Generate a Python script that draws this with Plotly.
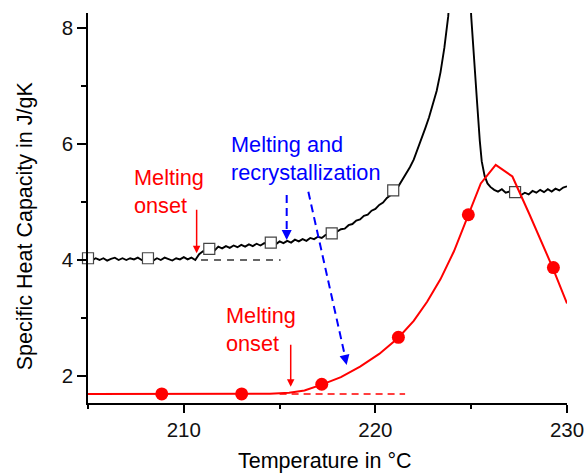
import plotly.graph_objects as go

# ---------------- data ----------------
# Black curve (noisy specific heat trace, open squares as markers)
black_x = [205.0, 205.2, 205.4, 205.6, 205.8, 206.0, 206.2, 206.4, 206.6, 206.8,
           207.0, 207.2, 207.4, 207.6, 207.8, 208.0, 208.2, 208.4, 208.6, 208.8,
           209.0, 209.2, 209.4, 209.6, 209.8, 210.0, 210.2, 210.4, 210.6, 210.8,
           211.0, 211.2, 211.4, 211.6, 211.8, 212.0, 212.2, 212.4, 212.6, 212.8,
           213.0, 213.2, 213.4, 213.6, 213.8, 214.0, 214.2, 214.4, 214.6, 214.8,
           215.0, 215.2, 215.4, 215.6, 215.8, 216.0, 216.2, 216.4, 216.6, 216.8,
           217.0, 217.2, 217.4, 217.6, 217.8, 218.0, 218.2, 218.4, 218.6, 218.8,
           219.0, 219.2, 219.4, 219.6, 219.8, 220.0, 220.2, 220.4, 220.6, 220.8,
           221.0, 221.2, 221.4, 221.6, 221.8, 222.0, 222.2, 222.4, 222.6, 222.8,
           223.0, 223.2, 223.4, 223.6, 223.8, 224.0, 224.4, 224.8, 225.0, 225.15,
           225.3, 225.45, 225.55, 225.7, 225.85, 226.0, 226.2, 226.4, 226.6, 226.8,
           227.0, 227.2, 227.4, 227.6, 227.8, 228.0, 228.2, 228.4, 228.6, 228.8,
           229.0, 229.2, 229.4, 229.6, 229.8, 230.0]
black_y = [4.02, 3.99, 4.03, 4.00, 4.03, 3.99, 4.02, 4.04, 4.00, 4.03,
           4.00, 4.03, 4.01, 4.04, 4.00, 4.03, 4.02, 3.99, 4.03, 4.00,
           4.04, 4.01, 3.99, 4.03, 4.01, 4.05, 4.01, 4.04, 4.00, 4.10,
           4.15, 4.13, 4.19, 4.16, 4.23, 4.20, 4.24, 4.21, 4.25, 4.22,
           4.26, 4.23, 4.27, 4.24, 4.28, 4.25, 4.29, 4.26, 4.30, 4.27,
           4.32, 4.29, 4.33, 4.30, 4.35, 4.32, 4.36, 4.33, 4.38, 4.36,
           4.40, 4.38, 4.43, 4.43, 4.47, 4.49, 4.53, 4.54, 4.60, 4.62,
           4.68, 4.70, 4.76, 4.78, 4.85, 4.88, 4.95, 4.99, 5.07, 5.12,
           5.21, 5.27, 5.38, 5.47, 5.60, 5.73, 5.90, 6.08, 6.27, 6.46,
           6.67, 6.92, 7.24, 7.66, 8.20, 9.20, 14.0, 9.80, 8.20, 7.40,
           6.75, 6.05, 5.70, 5.45, 5.32, 5.26, 5.21, 5.18, 5.22, 5.16,
           5.18, 5.14, 5.17, 5.12, 5.16, 5.13, 5.19, 5.16, 5.21, 5.17,
           5.22, 5.18, 5.23, 5.20, 5.25, 5.27]
square_x = [205.0, 208.13, 211.33, 214.54, 217.72, 220.93, 227.29]
square_y = [4.03, 4.03, 4.19, 4.30, 4.46, 5.20, 5.17]

# Red curve (fit line) and filled circles
red_x = [205.0, 207.0, 209.0, 211.0, 213.0, 214.5, 215.5, 216.3, 217.2, 218.2,
         219.2, 220.2, 221.2, 222.0, 222.7, 223.4, 224.1, 224.85, 225.5, 226.28,
         227.15, 228.05, 228.7, 229.25, 230.0]
red_y = [1.69, 1.69, 1.69, 1.69, 1.69, 1.695, 1.71, 1.75, 1.85, 1.98,
         2.16, 2.38, 2.66, 2.95, 3.28, 3.67, 4.15, 4.78, 5.32, 5.64,
         5.44, 4.78, 4.28, 3.87, 3.25]
circle_x = [208.85, 213.02, 217.2, 221.2, 224.85, 229.29]
circle_y = [1.69, 1.69, 1.857, 2.667, 4.78, 3.87]

# Baselines
black_base_x = [210.9, 215.05]
black_base_y = [4.0, 4.0]
red_base_x = [215.0, 221.55]
red_base_y = [1.69, 1.69]

x_tick_vals = [210, 220, 230]
y_tick_vals = [2, 4, 6, 8]

FONT = "Liberation Sans, Arial, Helvetica, sans-serif"
RED = "#ff0000"
BLUE = "#0000ff"

fig = go.Figure()

fig.add_trace(go.Scatter(x=black_base_x, y=black_base_y, mode="lines",
                         line=dict(color="#333333", width=1.5, dash="7px,6px"),
                         hoverinfo="skip"))
fig.add_trace(go.Scatter(x=red_base_x, y=red_base_y, mode="lines",
                         line=dict(color=RED, width=1.5, dash="7px,5px"),
                         hoverinfo="skip"))
fig.add_trace(go.Scatter(x=black_x, y=black_y, mode="lines",
                         line=dict(color="black", width=1.9)))
fig.add_trace(go.Scatter(x=square_x, y=square_y, mode="markers", cliponaxis=False,
                         marker=dict(symbol="square", size=11, color="white",
                                     line=dict(color="#444444", width=1.2))))
fig.add_trace(go.Scatter(x=red_x, y=red_y, mode="lines", line_shape="linear",
                         line=dict(color=RED, width=2)))
fig.add_trace(go.Scatter(x=circle_x, y=circle_y, mode="markers", cliponaxis=False,
                         marker=dict(symbol="circle", size=13, color=RED,
                                     line=dict(width=0))))

# Blue dashed arrow shafts
fig.add_shape(type="line", x0=215.37, y0=5.12, x1=215.37, y1=4.50,
              line=dict(color=BLUE, width=2, dash="8px,5px"))
fig.add_shape(type="line", x0=216.50, y0=5.177, x1=218.40, y1=2.36,
              line=dict(color=BLUE, width=2, dash="8px,5px"))

annotations = [
    # Axis titles
    dict(text="Temperature in °C", xref="paper", yref="paper", x=0.4948, y=-0.149,
         xanchor="center", yanchor="middle", showarrow=False,
         font=dict(size=21.5, color="black", family=FONT)),
    dict(text="Specific Heat Capacity in J/gK", xref="paper", yref="paper",
         x=-0.1315, y=0.4533, xanchor="center", yanchor="middle", textangle=-90,
         showarrow=False, font=dict(size=21.5, color="black", family=FONT)),
    # Text labels
    dict(text="Melting<br>onset", x=207.3, y=5.18, xanchor="left", yanchor="middle",
         align="left", showarrow=False, font=dict(size=21.7, color=RED, family=FONT)),
    dict(text="Melting<br>onset", x=212.1, y=2.793, xanchor="left", yanchor="middle",
         align="left", showarrow=False, font=dict(size=21.7, color=RED, family=FONT)),
    dict(text="Melting and<br>recrystallization", x=212.35, y=5.758, xanchor="left",
         yanchor="middle", align="left", showarrow=False,
         font=dict(size=21.7, color=BLUE, family=FONT)),
    # Red solid arrows
    dict(text="", x=210.67, y=4.115, ax=210.67, ay=4.891, axref="x", ayref="y",
         showarrow=True, arrowhead=2, arrowsize=1, arrowwidth=1.5, arrowcolor=RED),
    dict(text="", x=215.58, y=1.815, ax=215.58, ay=2.563, axref="x", ayref="y",
         showarrow=True, arrowhead=2, arrowsize=1, arrowwidth=1.5, arrowcolor=RED),
    # Blue arrowheads
    dict(text="", x=215.37, y=4.344, ax=0, ay=-9,
         showarrow=True, arrowhead=2, arrowsize=1, arrowwidth=2, arrowcolor=BLUE),
    dict(text="", x=218.50, y=2.19, ax=-2.0, ay=-9,
         showarrow=True, arrowhead=2, arrowsize=1, arrowwidth=2, arrowcolor=BLUE),
]

fig.update_layout(
    width=586, height=475,
    margin=dict(l=88, r=19, t=13, b=72, autoexpand=False),
    plot_bgcolor="white", paper_bgcolor="white",
    showlegend=False,
    font=dict(family=FONT, size=20.5, color="black"),
    annotations=annotations,
)
fig.update_xaxes(range=[205, 230], showgrid=False, zeroline=False, automargin=False,
                 showline=True, linecolor="black", linewidth=1.5,
                 ticks="outside", ticklen=8, tickwidth=1.5, tickcolor="black",
                 tickvals=x_tick_vals, tickfont=dict(size=20.5, color="#111111"),
                 minor=dict(dtick=5, tick0=205, ticks="outside", ticklen=4,
                            tickwidth=1.5, tickcolor="black", showgrid=False))
fig.update_yaxes(range=[1.534, 8.259], showgrid=False, zeroline=False, automargin=False,
                 showline=True, linecolor="black", linewidth=1.5,
                 ticks="outside", ticklen=9, tickwidth=1.5, tickcolor="black",
                 tickvals=y_tick_vals, tickfont=dict(size=20.5, color="#111111"),
                 minor=dict(dtick=1, tick0=1, ticks="outside", ticklen=5,
                            tickwidth=1.5, tickcolor="black", showgrid=False))

fig.write_html("out.html")
